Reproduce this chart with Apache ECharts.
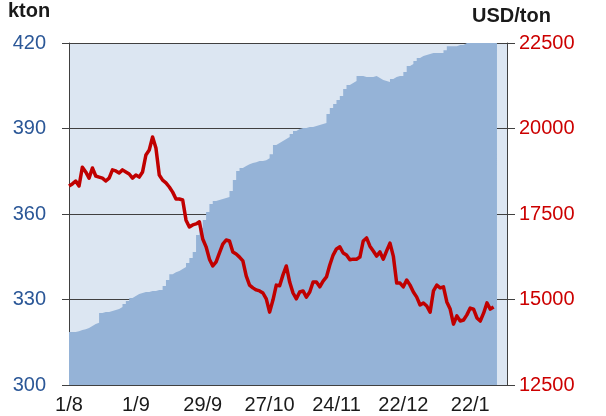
<!DOCTYPE html>
<html>
<head>
<meta charset="utf-8">
<script src="https://cdn.jsdelivr.net/npm/echarts@6/dist/echarts.min.js"></script>
<style>
html,body{margin:0;padding:0;background:#fff;}
#c{width:606px;height:416px;}
</style>
</head>
<body>
<div id="c"></div>
<script>
// tick labels on x axis (every 20 trading days)
var tickLabels = ['1/8','1/9','29/9','27/10','24/11','22/12','22/1'];
var tickIdx = [0,20,40,60,80,100,120];

// stocks, kton (left axis), one value per trading day
var stockKton = [318.6,318.6,318.9,319.3,319.6,320,320.7,321.4,321.8,325.3,
325.6,325.6,326,326.3,326.7,327.4,328.4,329.5,330.5,331.2,
331.9,332.3,332.6,332.6,333,333,333.3,333.3,334.7,336.8,
338.9,339.6,340,340.7,341.4,342.8,344.6,346.7,352.6,355.1,
357.9,360.7,363.5,364.6,364.9,365.3,365.6,366,368.1,371.9,
375.1,376.1,376.8,377.5,377.9,378.2,378.6,378.6,378.9,379.6,
381,384.2,384.9,385.6,386.3,387,388.1,389.1,389.8,390.2,
390.2,390.5,390.5,390.9,391.2,391.6,391.9,395.1,397.2,398.6,
400,401.4,403.9,405.3,406,406.7,408.4,408.4,408.1,408.1,
408.1,408.4,407.7,407,406.7,406.3,407.4,408.1,408.4,408.4,
409.8,411.9,412.6,413.7,414.7,415.4,415.8,416.1,416.5,416.5,
416.5,416.5,417.5,418.9,418.9,418.9,419.3,419.3,420,420,
420,420,420,420,420,420,420,420,420];

// price, USD/ton (right axis)
var priceUsd = [18320,18380,18465,18320,18870,18730,18550,18845,18610,18580,
18550,18465,18550,18790,18760,18700,18790,18730,18670,18550,
18640,18580,18730,19225,19370,19750,19430,18640,18490,18410,
18290,18140,17940,17940,17910,17320,17120,17180,17210,17270,
16770,16540,16180,15980,16100,16360,16620,16740,16710,16390,
16330,16240,16130,15690,15420,15340,15280,15250,15190,15020,
14630,14985,15420,15400,15720,15980,15510,15190,15020,15220,
15250,15070,15220,15510,15510,15370,15540,15660,16010,16300,
16480,16540,16360,16300,16160,16180,16180,16240,16710,16800,
16560,16420,16270,16390,16180,16420,16650,16270,15480,15480,
15370,15570,15420,15220,15070,14840,14900,14810,14630,15250,
15420,15340,15370,14930,14720,14280,14520,14370,14400,14550,
14750,14720,14460,14370,14600,14900,14720,14780];

var stockData = stockKton.map(function(v,i){return [i,v];});
var priceData = priceUsd.map(function(v,i){return [i,v];});

var chart = echarts.init(document.getElementById('c'), null, {renderer:'canvas'});
var FONT = 'Liberation Sans, Arial, sans-serif';
var axisCol = '#404040';
chart.setOption({
  animation:false,
  grid:{left:69, right:99, top:43, bottom:31, show:true, backgroundColor:'#dce6f2', borderWidth:0},
  graphic:[
    {type:'text', left:8, top:1, style:{text:'kton', font:'bold 20px '+FONT, fill:'#1a1a1a'}},
    {type:'text', left:472, top:6, style:{text:'USD/ton', font:'bold 20px '+FONT, fill:'#1a1a1a'}}
  ],
  xAxis:{
    type:'value', min:0, max:131,
    axisLine:{show:true, onZero:false, lineStyle:{color:axisCol, width:1}},
    axisTick:{show:true, inside:true, length:6, customValues:tickIdx, lineStyle:{color:axisCol}},
    axisLabel:{customValues:tickIdx, margin:10, fontSize:20, fontFamily:FONT, color:'#1a1a1a',
      formatter:function(v){var k=tickIdx.indexOf(Math.round(v));return k>=0?tickLabels[k]:'';}},
    splitLine:{show:false}
  },
  yAxis:[
    {type:'value', min:300, max:420, interval:30, position:'left',
     axisLine:{show:true, lineStyle:{color:axisCol}},
     axisTick:{show:true, length:7, lineStyle:{color:axisCol}},
     axisLabel:{margin:23, fontSize:20, fontFamily:FONT, color:'#2b5797'},
     splitLine:{show:true, lineStyle:{color:axisCol, width:1}}},
    {type:'value', min:12500, max:22500, interval:2500, position:'right',
     axisLine:{show:true, lineStyle:{color:axisCol}},
     axisTick:{show:true, length:8, lineStyle:{color:axisCol}},
     axisLabel:{margin:12, fontSize:20, fontFamily:FONT, color:'#cc0000',
       formatter:function(v){return String(v);}},
     splitLine:{show:false}}
  ],
  series:[
    {type:'line', yAxisIndex:0, data:stockData, step:'end', showSymbol:false, symbol:'none',
     lineStyle:{width:0}, areaStyle:{color:'#95b3d7', opacity:1}, z:2},
    {type:'line', yAxisIndex:1, data:priceData, showSymbol:false, symbol:'none',
     lineStyle:{width:3.5, color:'#c00000', join:'round'}, z:3}
  ]
});
</script>
</body>
</html>
